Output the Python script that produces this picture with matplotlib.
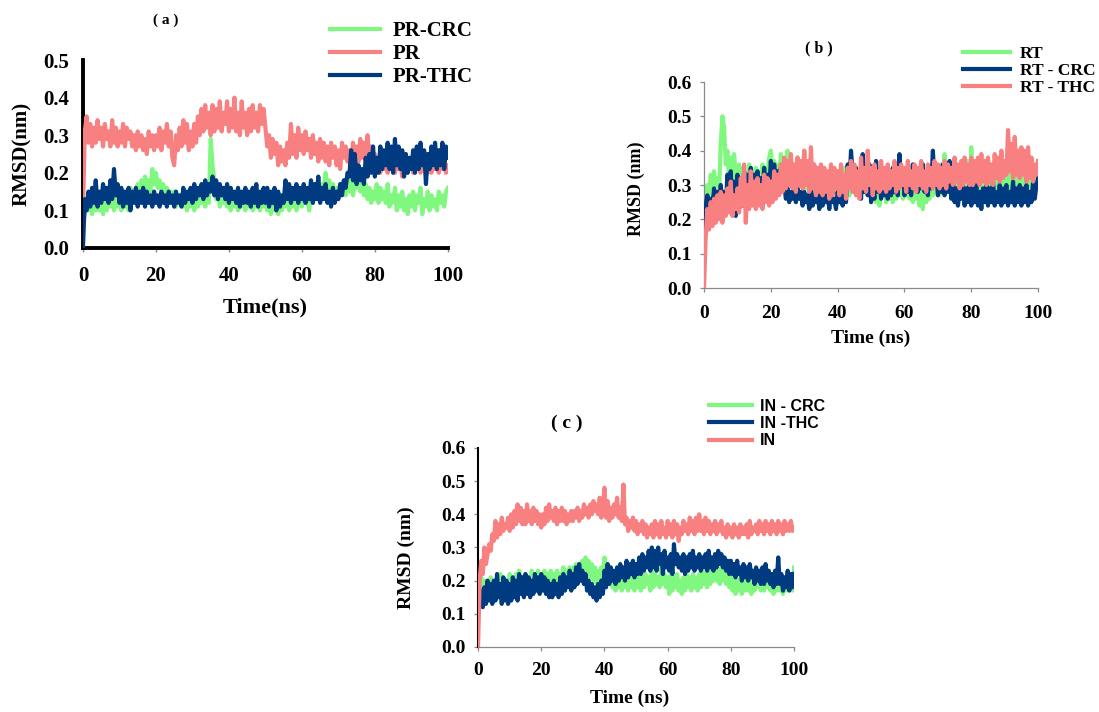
import matplotlib
matplotlib.use("Agg")
import matplotlib.pyplot as plt
import numpy as np

GREEN = "#80f880"
SALMON = "#f88080"
NAVY = "#003a80"

# RMSD sampled every 0.5 ns, 0..100 ns
time_ns = np.linspace(0, 100, 201)

# panel (a)
pr = [0.10, 0.31, 0.35, 0.28, 0.33, 0.27, 0.32, 0.28, 0.34, 0.29,
      0.32, 0.27, 0.33, 0.29, 0.31, 0.27, 0.34, 0.28, 0.32, 0.27,
      0.31, 0.28, 0.33, 0.27, 0.32, 0.29, 0.31, 0.27, 0.30, 0.26,
      0.31, 0.27, 0.30, 0.26, 0.29, 0.25, 0.31, 0.27, 0.30, 0.26,
      0.30, 0.27, 0.32, 0.26, 0.31, 0.28, 0.33, 0.27, 0.31, 0.24,
      0.22, 0.30, 0.26, 0.32, 0.27, 0.34, 0.28, 0.33, 0.26, 0.31,
      0.27, 0.33, 0.28, 0.35, 0.30, 0.37, 0.31, 0.38, 0.32, 0.36,
      0.30, 0.38, 0.31, 0.37, 0.32, 0.39, 0.31, 0.36, 0.33, 0.39,
      0.31, 0.37, 0.32, 0.40, 0.31, 0.36, 0.30, 0.39, 0.32, 0.36,
      0.30, 0.37, 0.31, 0.38, 0.32, 0.36, 0.31, 0.38, 0.33, 0.37,
      0.32, 0.27, 0.30, 0.24, 0.29, 0.25, 0.28, 0.22, 0.27, 0.23,
      0.26, 0.22, 0.28, 0.24, 0.33, 0.25, 0.30, 0.24, 0.32, 0.26,
      0.30, 0.25, 0.31, 0.26, 0.29, 0.24, 0.30, 0.25, 0.28, 0.23,
      0.29, 0.24, 0.28, 0.23, 0.27, 0.22, 0.28, 0.24, 0.27, 0.22,
      0.26, 0.21, 0.28, 0.24, 0.27, 0.23, 0.26, 0.22, 0.28, 0.24,
      0.27, 0.23, 0.29, 0.24, 0.28, 0.23, 0.30, 0.24, 0.27, 0.23,
      0.25, 0.21, 0.24, 0.20, 0.23, 0.21, 0.25, 0.20, 0.24, 0.21,
      0.26, 0.20, 0.24, 0.21, 0.23, 0.19, 0.24, 0.20, 0.23, 0.21,
      0.24, 0.20, 0.25, 0.21, 0.24, 0.20, 0.23, 0.21, 0.24, 0.20,
      0.23, 0.20, 0.24, 0.21, 0.23, 0.20, 0.24, 0.21, 0.22, 0.20,
      0.22]
pr_thc = [0.00, 0.13, 0.10, 0.15, 0.11, 0.16, 0.12, 0.18, 0.11, 0.15,
          0.12, 0.17, 0.13, 0.16, 0.12, 0.18, 0.13, 0.21, 0.14, 0.17,
          0.12, 0.16, 0.11, 0.15, 0.12, 0.16, 0.10, 0.15, 0.12, 0.16,
          0.11, 0.15, 0.12, 0.16, 0.11, 0.15, 0.12, 0.14, 0.11, 0.15,
          0.12, 0.14, 0.11, 0.15, 0.12, 0.14, 0.11, 0.15, 0.12, 0.14,
          0.11, 0.15, 0.12, 0.14, 0.11, 0.16, 0.12, 0.15, 0.13, 0.16,
          0.12, 0.17, 0.13, 0.16, 0.14, 0.17, 0.13, 0.18, 0.14, 0.17,
          0.15, 0.19, 0.14, 0.18, 0.13, 0.17, 0.14, 0.16, 0.13, 0.17,
          0.12, 0.16, 0.13, 0.15, 0.12, 0.16, 0.11, 0.15, 0.12, 0.16,
          0.12, 0.15, 0.11, 0.16, 0.12, 0.17, 0.11, 0.15, 0.12, 0.16,
          0.12, 0.16, 0.11, 0.15, 0.12, 0.16, 0.10, 0.15, 0.11, 0.14,
          0.12, 0.18, 0.13, 0.17, 0.12, 0.16, 0.13, 0.17, 0.12, 0.16,
          0.13, 0.17, 0.12, 0.16, 0.13, 0.18, 0.12, 0.17, 0.13, 0.19,
          0.12, 0.16, 0.13, 0.17, 0.12, 0.15, 0.11, 0.16, 0.12, 0.15,
          0.13, 0.17, 0.14, 0.18, 0.16, 0.20, 0.19, 0.26, 0.18, 0.25,
          0.17, 0.22, 0.18, 0.21, 0.17, 0.24, 0.19, 0.25, 0.20, 0.27,
          0.19, 0.24, 0.20, 0.27, 0.21, 0.26, 0.22, 0.28, 0.21, 0.27,
          0.20, 0.29, 0.22, 0.27, 0.21, 0.26, 0.19, 0.25, 0.20, 0.24,
          0.21, 0.26, 0.20, 0.27, 0.21, 0.28, 0.22, 0.26, 0.17, 0.25,
          0.21, 0.27, 0.22, 0.28, 0.21, 0.26, 0.22, 0.28, 0.21, 0.27,
          0.24]
pr_crc = [0.07, 0.09, 0.13, 0.10, 0.14, 0.09, 0.13, 0.10, 0.14, 0.10,
          0.13, 0.09, 0.14, 0.10, 0.13, 0.11, 0.15, 0.10, 0.14, 0.11,
          0.13, 0.10, 0.15, 0.11, 0.14, 0.10, 0.16, 0.12, 0.15, 0.13,
          0.17, 0.14, 0.18, 0.15, 0.19, 0.16, 0.18, 0.15, 0.21, 0.17,
          0.20, 0.16, 0.18, 0.15, 0.17, 0.13, 0.16, 0.12, 0.15, 0.12,
          0.15, 0.11, 0.14, 0.12, 0.13, 0.11, 0.14, 0.10, 0.13, 0.11,
          0.14, 0.10, 0.13, 0.11, 0.14, 0.12, 0.15, 0.11, 0.14, 0.12,
          0.29, 0.22, 0.18, 0.13, 0.15, 0.11, 0.14, 0.12, 0.13, 0.11,
          0.12, 0.10, 0.13, 0.11, 0.14, 0.10, 0.12, 0.11, 0.13, 0.10,
          0.14, 0.11, 0.13, 0.10, 0.12, 0.11, 0.14, 0.10, 0.13, 0.11,
          0.13, 0.10, 0.12, 0.09, 0.13, 0.10, 0.14, 0.09, 0.12, 0.10,
          0.14, 0.11, 0.13, 0.10, 0.12, 0.11, 0.14, 0.10, 0.13, 0.12,
          0.11, 0.14, 0.12, 0.13, 0.10, 0.14, 0.12, 0.15, 0.13, 0.16,
          0.14, 0.17, 0.15, 0.20, 0.14, 0.18, 0.15, 0.17, 0.13, 0.16,
          0.14, 0.17, 0.15, 0.18, 0.14, 0.19, 0.15, 0.18, 0.14, 0.17,
          0.16, 0.19, 0.15, 0.18, 0.14, 0.17, 0.13, 0.16, 0.12, 0.15,
          0.13, 0.17, 0.12, 0.16, 0.13, 0.15, 0.12, 0.17, 0.11, 0.14,
          0.12, 0.16, 0.10, 0.14, 0.11, 0.15, 0.10, 0.13, 0.09, 0.14,
          0.11, 0.15, 0.10, 0.14, 0.12, 0.16, 0.09, 0.13, 0.11, 0.15,
          0.10, 0.14, 0.11, 0.13, 0.10, 0.15, 0.12, 0.14, 0.11, 0.15,
          0.16]

# panel (b)
rt = [0.20, 0.26, 0.30, 0.27, 0.33, 0.29, 0.34, 0.30, 0.32, 0.28,
      0.42, 0.50, 0.47, 0.36, 0.40, 0.32, 0.38, 0.31, 0.39, 0.33,
      0.31, 0.36, 0.30, 0.35, 0.29, 0.33, 0.31, 0.36, 0.30, 0.34,
      0.29, 0.35, 0.31, 0.34, 0.30, 0.36, 0.31, 0.35, 0.33, 0.38,
      0.40, 0.33, 0.37, 0.31, 0.36, 0.32, 0.39, 0.33, 0.37, 0.31,
      0.40, 0.32, 0.37, 0.29, 0.35, 0.30, 0.38, 0.31, 0.36, 0.30,
      0.40, 0.29, 0.36, 0.27, 0.34, 0.28, 0.33, 0.26, 0.32, 0.28,
      0.34, 0.27, 0.33, 0.28, 0.31, 0.26, 0.33, 0.27, 0.32, 0.28,
      0.34, 0.26, 0.32, 0.28, 0.35, 0.29, 0.33, 0.27, 0.31, 0.28,
      0.34, 0.28, 0.33, 0.27, 0.32, 0.29, 0.35, 0.28, 0.33, 0.27,
      0.32, 0.26, 0.31, 0.25, 0.33, 0.24, 0.31, 0.27, 0.30, 0.25,
      0.32, 0.26, 0.30, 0.25, 0.29, 0.26, 0.31, 0.27, 0.33, 0.26,
      0.31, 0.27, 0.33, 0.26, 0.30, 0.25, 0.32, 0.26, 0.30, 0.24,
      0.29, 0.23, 0.31, 0.25, 0.32, 0.26, 0.30, 0.27, 0.35, 0.28,
      0.33, 0.27, 0.36, 0.29, 0.39, 0.31, 0.35, 0.28, 0.34, 0.29,
      0.33, 0.28, 0.32, 0.27, 0.34, 0.29, 0.33, 0.28, 0.37, 0.30,
      0.41, 0.29, 0.34, 0.28, 0.33, 0.27, 0.32, 0.28, 0.34, 0.27,
      0.33, 0.28, 0.31, 0.27, 0.32, 0.26, 0.33, 0.28, 0.31, 0.27,
      0.32, 0.27, 0.33, 0.28, 0.34, 0.26, 0.32, 0.28, 0.33, 0.27,
      0.32, 0.26, 0.33, 0.28, 0.31, 0.27, 0.33, 0.28, 0.34, 0.30,
      0.37]
rt_crc = [0.15, 0.24, 0.27, 0.23, 0.26, 0.24, 0.29, 0.25, 0.28, 0.24,
          0.30, 0.25, 0.28, 0.23, 0.33, 0.25, 0.34, 0.22, 0.31, 0.21,
          0.33, 0.23, 0.32, 0.24, 0.34, 0.26, 0.33, 0.25, 0.35, 0.26,
          0.33, 0.27, 0.34, 0.28, 0.32, 0.27, 0.35, 0.29, 0.33, 0.28,
          0.37, 0.30, 0.36, 0.31, 0.34, 0.30, 0.35, 0.29, 0.30, 0.26,
          0.29, 0.25, 0.28, 0.26, 0.30, 0.25, 0.29, 0.26, 0.28, 0.24,
          0.28, 0.25, 0.27, 0.23, 0.29, 0.24, 0.27, 0.25, 0.28, 0.23,
          0.27, 0.24, 0.29, 0.25, 0.27, 0.23, 0.28, 0.25, 0.26, 0.23,
          0.28, 0.25, 0.27, 0.24, 0.29, 0.25, 0.36, 0.30, 0.40, 0.33,
          0.28, 0.35, 0.27, 0.33, 0.26, 0.39, 0.28, 0.34, 0.27, 0.36,
          0.25, 0.30, 0.26, 0.37, 0.28, 0.32, 0.26, 0.34, 0.27, 0.31,
          0.26, 0.33, 0.27, 0.35, 0.28, 0.32, 0.27, 0.39, 0.30, 0.34,
          0.27, 0.35, 0.28, 0.33, 0.27, 0.36, 0.29, 0.35, 0.28, 0.34,
          0.29, 0.36, 0.28, 0.34, 0.27, 0.35, 0.29, 0.40, 0.31, 0.35,
          0.27, 0.34, 0.28, 0.36, 0.27, 0.33, 0.28, 0.37, 0.26, 0.31,
          0.25, 0.29, 0.24, 0.28, 0.26, 0.30, 0.24, 0.29, 0.25, 0.30,
          0.24, 0.29, 0.25, 0.30, 0.24, 0.28, 0.23, 0.29, 0.25, 0.30,
          0.24, 0.29, 0.25, 0.31, 0.24, 0.28, 0.25, 0.30, 0.24, 0.29,
          0.25, 0.30, 0.24, 0.28, 0.25, 0.31, 0.24, 0.29, 0.25, 0.30,
          0.24, 0.29, 0.25, 0.30, 0.24, 0.28, 0.25, 0.31, 0.26, 0.30,
          0.32]
rt_thc = [0.00, 0.15, 0.23, 0.17, 0.25, 0.18, 0.26, 0.19, 0.27, 0.20,
          0.28, 0.19, 0.27, 0.21, 0.29, 0.22, 0.31, 0.21, 0.27, 0.23,
          0.29, 0.22, 0.32, 0.24, 0.36, 0.19, 0.30, 0.23, 0.34, 0.24,
          0.31, 0.23, 0.32, 0.24, 0.30, 0.23, 0.33, 0.25, 0.32, 0.24,
          0.31, 0.25, 0.34, 0.26, 0.33, 0.27, 0.36, 0.28, 0.38, 0.29,
          0.37, 0.30, 0.39, 0.29, 0.36, 0.28, 0.38, 0.30, 0.37, 0.29,
          0.40, 0.30, 0.37, 0.28, 0.41, 0.29, 0.36, 0.27, 0.35, 0.28,
          0.36, 0.27, 0.35, 0.28, 0.34, 0.26, 0.36, 0.27, 0.35, 0.29,
          0.34, 0.27, 0.36, 0.28, 0.33, 0.26, 0.35, 0.29, 0.37, 0.28,
          0.36, 0.27, 0.34, 0.26, 0.38, 0.29, 0.35, 0.28, 0.40, 0.30,
          0.35, 0.27, 0.36, 0.29, 0.34, 0.28, 0.37, 0.29, 0.35, 0.28,
          0.36, 0.29, 0.34, 0.30, 0.37, 0.28, 0.35, 0.29, 0.36, 0.30,
          0.35, 0.28, 0.37, 0.30, 0.34, 0.29, 0.36, 0.28, 0.35, 0.30,
          0.37, 0.29, 0.34, 0.28, 0.36, 0.30, 0.35, 0.29, 0.37, 0.30,
          0.36, 0.29, 0.35, 0.30, 0.37, 0.29, 0.36, 0.31, 0.35, 0.30,
          0.38, 0.31, 0.36, 0.29, 0.37, 0.30, 0.38, 0.31, 0.36, 0.30,
          0.38, 0.30, 0.37, 0.31, 0.38, 0.30, 0.39, 0.31, 0.37, 0.30,
          0.38, 0.31, 0.36, 0.30, 0.39, 0.32, 0.38, 0.31, 0.40, 0.32,
          0.37, 0.33, 0.46, 0.34, 0.42, 0.32, 0.44, 0.33, 0.40, 0.32,
          0.41, 0.33, 0.40, 0.31, 0.41, 0.32, 0.38, 0.31, 0.36, 0.33,
          0.37]

# panel (c)
in_apo = [0.00, 0.20, 0.26, 0.22, 0.30, 0.25, 0.28, 0.31, 0.29, 0.34,
          0.32, 0.38, 0.33, 0.37, 0.34, 0.39, 0.35, 0.37, 0.36, 0.39,
          0.35, 0.40, 0.36, 0.41, 0.37, 0.43, 0.38, 0.42, 0.37, 0.41,
          0.37, 0.43, 0.38, 0.41, 0.37, 0.42, 0.38, 0.41, 0.37, 0.40,
          0.36, 0.40, 0.37, 0.42, 0.38, 0.43, 0.39, 0.41, 0.38, 0.42,
          0.37, 0.41, 0.38, 0.42, 0.38, 0.41, 0.37, 0.40, 0.38, 0.41,
          0.38, 0.41, 0.39, 0.42, 0.38, 0.41, 0.39, 0.43, 0.40, 0.42,
          0.39, 0.43, 0.40, 0.44, 0.41, 0.43, 0.40, 0.45, 0.39, 0.42,
          0.48, 0.39, 0.44, 0.38, 0.42, 0.39, 0.43, 0.40, 0.45, 0.39,
          0.42, 0.38, 0.49, 0.37, 0.39, 0.35, 0.38, 0.36, 0.39, 0.35,
          0.38, 0.34, 0.37, 0.35, 0.38, 0.34, 0.37, 0.33, 0.36, 0.34,
          0.37, 0.33, 0.38, 0.34, 0.37, 0.33, 0.38, 0.34, 0.36, 0.33,
          0.38, 0.34, 0.37, 0.33, 0.38, 0.34, 0.37, 0.32, 0.36, 0.34,
          0.38, 0.35, 0.37, 0.34, 0.39, 0.35, 0.38, 0.34, 0.39, 0.35,
          0.40, 0.35, 0.38, 0.34, 0.39, 0.35, 0.38, 0.34, 0.37, 0.35,
          0.38, 0.34, 0.37, 0.35, 0.38, 0.34, 0.36, 0.33, 0.37, 0.34,
          0.36, 0.33, 0.37, 0.34, 0.36, 0.33, 0.37, 0.34, 0.36, 0.34,
          0.37, 0.33, 0.38, 0.34, 0.36, 0.35, 0.37, 0.34, 0.38, 0.35,
          0.37, 0.34, 0.38, 0.35, 0.37, 0.34, 0.38, 0.35, 0.37, 0.34,
          0.38, 0.35, 0.37, 0.34, 0.38, 0.35, 0.37, 0.35, 0.38, 0.35,
          0.36]
in_crc = [0.20, 0.16, 0.21, 0.15, 0.20, 0.14, 0.19, 0.15, 0.21, 0.14,
          0.20, 0.15, 0.21, 0.16, 0.22, 0.15, 0.21, 0.16, 0.20, 0.15,
          0.22, 0.17, 0.21, 0.16, 0.22, 0.17, 0.23, 0.16, 0.21, 0.17,
          0.22, 0.17, 0.21, 0.18, 0.23, 0.17, 0.22, 0.18, 0.23, 0.18,
          0.22, 0.18, 0.23, 0.19, 0.22, 0.18, 0.23, 0.19, 0.22, 0.18,
          0.23, 0.19, 0.22, 0.18, 0.24, 0.19, 0.23, 0.20, 0.24, 0.19,
          0.24, 0.20, 0.25, 0.21, 0.24, 0.22, 0.26, 0.21, 0.27, 0.22,
          0.26, 0.21, 0.25, 0.20, 0.24, 0.19, 0.23, 0.18, 0.24, 0.19,
          0.27, 0.21, 0.25, 0.19, 0.24, 0.18, 0.22, 0.17, 0.23, 0.18,
          0.22, 0.17, 0.21, 0.18, 0.22, 0.17, 0.23, 0.18, 0.21, 0.17,
          0.22, 0.18, 0.21, 0.17, 0.23, 0.18, 0.22, 0.19, 0.21, 0.17,
          0.23, 0.18, 0.22, 0.19, 0.21, 0.18, 0.24, 0.19, 0.22, 0.18,
          0.21, 0.16, 0.22, 0.17, 0.21, 0.18, 0.22, 0.17, 0.20, 0.16,
          0.21, 0.17, 0.22, 0.18, 0.21, 0.17, 0.22, 0.18, 0.21, 0.17,
          0.22, 0.18, 0.23, 0.19, 0.22, 0.18, 0.24, 0.19, 0.23, 0.20,
          0.24, 0.20, 0.23, 0.19, 0.24, 0.20, 0.22, 0.19, 0.23, 0.18,
          0.21, 0.17, 0.22, 0.16, 0.20, 0.17, 0.21, 0.16, 0.20, 0.17,
          0.21, 0.17, 0.20, 0.16, 0.21, 0.17, 0.20, 0.18, 0.21, 0.17,
          0.20, 0.17, 0.21, 0.18, 0.20, 0.17, 0.21, 0.16, 0.20, 0.17,
          0.21, 0.17, 0.20, 0.16, 0.21, 0.17, 0.20, 0.18, 0.22, 0.17,
          0.24]
in_thc = [0.10, 0.13, 0.17, 0.12, 0.18, 0.13, 0.20, 0.14, 0.19, 0.13,
          0.20, 0.14, 0.22, 0.15, 0.19, 0.13, 0.21, 0.14, 0.20, 0.13,
          0.19, 0.14, 0.21, 0.15, 0.20, 0.14, 0.22, 0.16, 0.21, 0.15,
          0.22, 0.16, 0.21, 0.15, 0.20, 0.16, 0.22, 0.17, 0.21, 0.16,
          0.22, 0.17, 0.21, 0.16, 0.20, 0.15, 0.19, 0.15, 0.20, 0.16,
          0.19, 0.15, 0.21, 0.16, 0.22, 0.17, 0.21, 0.18, 0.23, 0.17,
          0.22, 0.18, 0.24, 0.19, 0.25, 0.20, 0.23, 0.19, 0.22, 0.17,
          0.20, 0.16, 0.19, 0.15, 0.18, 0.14, 0.19, 0.15, 0.20, 0.16,
          0.23, 0.18, 0.25, 0.19, 0.24, 0.20, 0.23, 0.19, 0.24, 0.20,
          0.25, 0.21, 0.24, 0.20, 0.26, 0.21, 0.25, 0.22, 0.26, 0.21,
          0.25, 0.22, 0.27, 0.22, 0.28, 0.23, 0.27, 0.24, 0.29, 0.23,
          0.30, 0.24, 0.29, 0.23, 0.30, 0.25, 0.28, 0.22, 0.29, 0.24,
          0.27, 0.23, 0.28, 0.22, 0.31, 0.25, 0.28, 0.24, 0.27, 0.23,
          0.28, 0.22, 0.27, 0.23, 0.28, 0.24, 0.29, 0.23, 0.27, 0.24,
          0.28, 0.23, 0.27, 0.24, 0.28, 0.23, 0.29, 0.24, 0.27, 0.23,
          0.28, 0.24, 0.29, 0.25, 0.28, 0.24, 0.27, 0.23, 0.26, 0.22,
          0.26, 0.22, 0.25, 0.21, 0.26, 0.22, 0.24, 0.20, 0.25, 0.21,
          0.24, 0.20, 0.25, 0.21, 0.23, 0.19, 0.24, 0.20, 0.23, 0.19,
          0.24, 0.19, 0.25, 0.20, 0.23, 0.19, 0.22, 0.18, 0.23, 0.19,
          0.27, 0.19, 0.22, 0.17, 0.21, 0.18, 0.23, 0.17, 0.22, 0.18,
          0.22]

SERIF = "Liberation Serif"
SANS = "Liberation Sans"
LW = 3.0


def bold(size, family=SERIF):
    return {"fontfamily": family, "fontweight": "bold", "fontsize": size}


def style_ticks(ax, size):
    for lab in ax.get_xticklabels() + ax.get_yticklabels():
        lab.set_fontfamily(SERIF)
        lab.set_fontweight("bold")
        lab.set_fontsize(size)


def set_axis(ax, ymax):
    ax.set_xlim(0, 100)
    ax.set_ylim(0, ymax)
    ax.set_xticks(range(0, 101, 20))
    yt = np.arange(0, ymax + 0.01, 0.1)
    ax.set_yticks(yt)
    ax.set_yticklabels([f"{v:.1f}" for v in yt])
    for s in ("top", "right"):
        ax.spines[s].set_visible(False)


fig = plt.figure(figsize=(10.99, 7.12), dpi=100)

# ---- (a)
ax = fig.add_axes([0.0755, 0.6517, 0.332, 0.264])
ax.plot(time_ns, pr_crc, color=GREEN, lw=LW, label="PR-CRC", zorder=2)
ax.plot(time_ns, pr, color=SALMON, lw=LW, label="PR", zorder=3)
ax.plot(time_ns, pr_thc, color=NAVY, lw=LW, label="PR-THC", zorder=4)
set_axis(ax, 0.5)
ax.spines["left"].set_linewidth(2.8)
ax.spines["bottom"].set_linewidth(2.8)
ax.tick_params(axis="x", length=3, width=1, color="#888888", pad=10)
ax.tick_params(axis="y", length=0, pad=10)
style_ticks(ax, 15)
ax.set_xlabel("Time(ns)", **bold(16))
ax.xaxis.set_label_coords(0.5, -0.265)
ax.set_ylabel("RMSD(nm)", **bold(15))
ax.yaxis.set_label_coords(-0.14, 0.5)
fig.text(166 / 1099, 1 - 20 / 712, "( a )", ha="center", va="center", **bold(11))
ax.legend(loc="upper left", bbox_to_anchor=(330 / 1099, 1 - 21 / 712),
          bbox_transform=fig.transFigure, frameon=False, handlelength=2.4,
          handletextpad=0.6, labelspacing=0.15, borderaxespad=0, borderpad=0,
          prop={"family": SERIF, "weight": "bold", "size": 15})

# ---- (b)
ax = fig.add_axes([0.6406, 0.5955, 0.304, 0.2893])
ax.plot(time_ns, rt, color=GREEN, lw=LW, label="RT", zorder=2)
ax.plot(time_ns, rt_crc, color=NAVY, lw=LW, label="RT - CRC", zorder=3)
ax.plot(time_ns, rt_thc, color=SALMON, lw=LW, label="RT - THC", zorder=4)
set_axis(ax, 0.6)
for s in ("left", "bottom"):
    ax.spines[s].set_linewidth(0.9)
    ax.spines[s].set_color("#8a8a8a")
ax.tick_params(axis="x", length=3, width=0.9, color="#8a8a8a", pad=9)
ax.tick_params(axis="y", length=3, width=0.9, color="#8a8a8a", pad=6)
style_ticks(ax, 14)
ax.set_xlabel("Time (ns)", **bold(14))
ax.xaxis.set_label_coords(0.5, -0.2)
ax.set_ylabel("RMSD (nm)", **bold(13))
ax.yaxis.set_label_coords(-0.177, 0.48)
fig.text(819 / 1099, 1 - 48 / 712, "( b )", ha="center", va="center", **bold(11.5))
ax.legend(loc="upper left", bbox_to_anchor=(963 / 1099, 1 - 46 / 712),
          bbox_transform=fig.transFigure, frameon=False, handlelength=2.7,
          handletextpad=0.57, labelspacing=0.05, borderaxespad=0, borderpad=0,
          prop={"family": SERIF, "weight": "bold", "size": 12.5})

# ---- (c)
ax = fig.add_axes([0.435, 0.0913, 0.2875, 0.2795])
ax.plot(time_ns, in_crc, color=GREEN, lw=LW, label="IN - CRC", zorder=2)
ax.plot(time_ns, in_thc, color=NAVY, lw=LW, label="IN -THC", zorder=3)
ax.plot(time_ns, in_apo, color=SALMON, lw=LW, label="IN", zorder=4)
set_axis(ax, 0.6)
ax.spines["left"].set_linewidth(1.5)
ax.spines["left"].set_color("black")
ax.spines["bottom"].set_linewidth(0.9)
ax.spines["bottom"].set_color("#8a8a8a")
ax.tick_params(axis="x", length=3, width=0.9, color="#8a8a8a", pad=8)
ax.tick_params(axis="y", length=3, width=0.9, color="#8a8a8a", pad=6)
style_ticks(ax, 14)
ax.set_xlabel("Time (ns)", **bold(14))
ax.xaxis.set_label_coords(0.48, -0.216)
ax.set_ylabel("RMSD (nm)", **bold(14))
ax.yaxis.set_label_coords(-0.2, 0.45)
fig.text(567 / 1099, 1 - 423 / 712, "( c )", ha="center", va="center", **bold(14))
ax.legend(loc="upper left", bbox_to_anchor=(709 / 1099, 1 - 399 / 712),
          bbox_transform=fig.transFigure, frameon=False, handlelength=2.7,
          handletextpad=0.5, labelspacing=0.13, borderaxespad=0, borderpad=0,
          prop={"family": SANS, "weight": "bold", "size": 11.5})

fig.savefig("out.png", dpi=100)
